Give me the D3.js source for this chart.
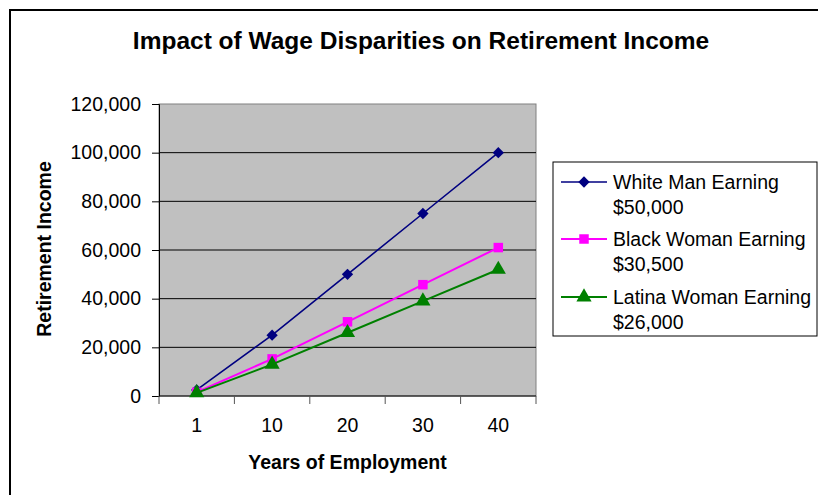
<!DOCTYPE html>
<html>
<head>
<meta charset="utf-8">
<script src="https://cdn.jsdelivr.net/npm/d3@7"></script>
<style>
  body { margin: 0; background: #fff; }
  svg { font-family: "Liberation Sans", Arial, sans-serif; }
</style>
</head>
<body>
<svg id="chart" width="818" height="495"></svg>
<script>
// data
var years = ['1', '10', '20', '30', '40'];
var whiteMan = [2500, 25000, 50000, 75000, 100000];
var blackWoman = [1525, 15250, 30500, 45750, 61000];
var latinaWoman = [1300, 13000, 26000, 39000, 52000];
var yTicks = [0, 20000, 40000, 60000, 80000, 100000, 120000];
var seriesNames = [['White Man Earning', '$50,000'], ['Black Woman Earning', '$30,500'], ['Latina Woman Earning', '$26,000']];

var svg = d3.select('#chart');

// outer frame (runs off the right and bottom edges)
svg.append('path').attr('d', 'M10,830 L10,10 L830,10')
  .style('fill', 'none').style('stroke', '#000').style('stroke-width', 2);

var plotL = 159, plotR = 536, plotT = 104, plotB = 396;

var xScale = d3.scaleBand().domain(years).range([plotL, plotR]).padding(0);
var yScale = d3.scaleLinear().domain([0, 120000]).range([plotB, plotT]);

// plot area
svg.append('rect').attr('x', plotL).attr('y', plotT).attr('width', plotR - plotL).attr('height', plotB - plotT)
  .style('fill', '#c0c0c0').style('stroke', '#808080').style('stroke-width', 1);

// gridlines
svg.append('g').selectAll('line').data(yTicks.filter(d => d > 0 && d < 120000)).enter().append('line')
  .attr('x1', plotL).attr('x2', plotR).attr('y1', d => yScale(d)).attr('y2', d => yScale(d))
  .style('stroke', '#000').style('stroke-width', 1);

// y axis
var yAxis = svg.append('g').attr('transform', 'translate(' + plotL + ',0)')
  .call(d3.axisLeft(yScale).tickValues(yTicks).tickFormat(d3.format(',')).tickSize(7).tickPadding(11));
yAxis.select('.domain').style('stroke', '#000');
yAxis.selectAll('text').style('font-size', '19.5px').style('fill', '#000')
  .style('font-family', '"Liberation Sans", Arial, sans-serif');

// x axis
var xAxis = svg.append('g').attr('transform', 'translate(0,' + plotB + ')')
  .call(d3.axisBottom(xScale).tickSize(0).tickPadding(0));
xAxis.select('.domain').remove();
xAxis.selectAll('.tick line').remove();
xAxis.selectAll('text').attr('y', 36).attr('dy', 0).style('font-size', '19.5px').style('fill', '#000')
  .style('font-family', '"Liberation Sans", Arial, sans-serif');
svg.append('line').attr('x1', plotL).attr('x2', plotR).attr('y1', plotB).attr('y2', plotB)
  .style('stroke', '#000').style('stroke-width', 1);
var bounds = years.map(d => xScale(d)).concat([plotR]);
svg.append('g').selectAll('line').data(bounds).enter().append('line')
  .attr('x1', d => d).attr('x2', d => d).attr('y1', plotB).attr('y2', plotB + 8)
  .style('stroke', '#555').style('stroke-width', 1);

// titles
svg.append('text').attr('x', 421).attr('y', 49).attr('text-anchor', 'middle')
  .style('font-size', '24.5px').style('font-weight', 'bold').text('Impact of Wage Disparities on Retirement Income');
svg.append('text').attr('x', (plotL + plotR) / 2).attr('y', 469).attr('text-anchor', 'middle')
  .style('font-size', '19.5px').style('font-weight', 'bold').text('Years of Employment');
svg.append('text').attr('transform', 'translate(51,249) rotate(-90)').attr('text-anchor', 'middle')
  .style('font-size', '19.5px').style('font-weight', 'bold').text('Retirement Income');

// series
var colors = ['#000080', '#ff00ff', '#008000'];
var widths = [1.6, 2, 2];
var symbols = [d3.symbolSquare, d3.symbolSquare, d3.symbolTriangle];
var symSizes = [64, 90, 100];
var symRot = [45, 0, 0];
var allSeries = [whiteMan, blackWoman, latinaWoman];
var xc = d => xScale(d) + xScale.bandwidth() / 2;
var lineGen = d3.line().x((d, i) => xc(years[i])).y(d => yScale(d));

allSeries.forEach(function(vals, k) {
  svg.append('path').attr('d', lineGen(vals))
    .style('fill', 'none').style('stroke', colors[k]).style('stroke-width', widths[k]);
  svg.append('g').selectAll('path').data(vals).enter().append('path')
    .attr('d', d3.symbol().type(symbols[k]).size(symSizes[k]))
    .attr('transform', (d, i) => 'translate(' + xc(years[i]) + ',' + yScale(d) + ') rotate(' + symRot[k] + ')')
    .style('fill', colors[k]).style('stroke', 'none');
});

// legend
var legend = svg.append('g');
legend.append('rect').attr('x', 553).attr('y', 162).attr('width', 264).attr('height', 174)
  .style('fill', '#fff').style('stroke', '#000').style('stroke-width', 1);
var rowY = [182, 239, 297];
seriesNames.forEach(function(name, k) {
  legend.append('line').attr('x1', 561).attr('x2', 607).attr('y1', rowY[k]).attr('y2', rowY[k])
    .style('stroke', colors[k]).style('stroke-width', widths[k]);
  legend.append('path').attr('d', d3.symbol().type(symbols[k]).size(symSizes[k]))
    .attr('transform', 'translate(584,' + rowY[k] + ') rotate(' + symRot[k] + ')').style('fill', colors[k]);
  legend.append('text').attr('x', 613).attr('y', rowY[k] + 7).style('font-size', '19.5px').text(name[0]);
  legend.append('text').attr('x', 613).attr('y', rowY[k] + 32).style('font-size', '19.5px').text(name[1]);
});
</script>
</body>
</html>
